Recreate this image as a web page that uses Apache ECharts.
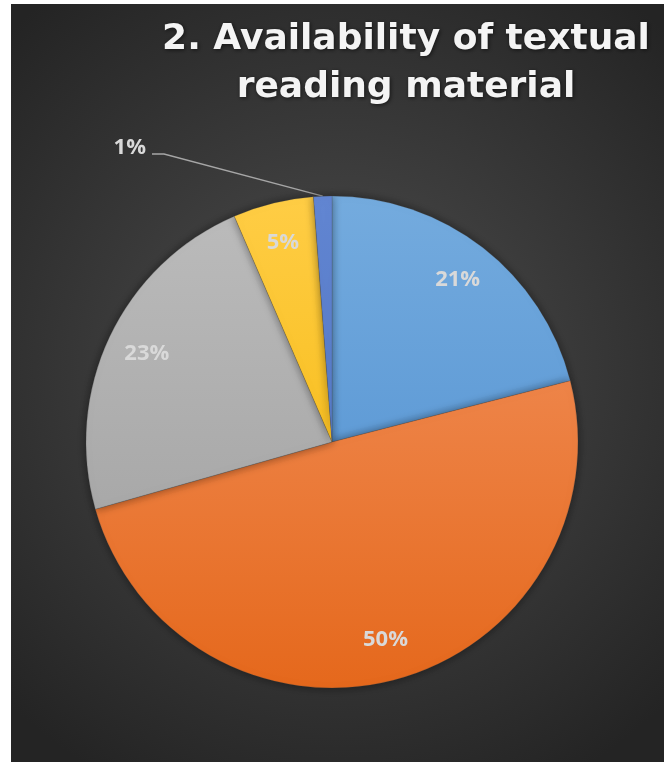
<!DOCTYPE html>
<html>
<head>
<meta charset="utf-8">
<script src="https://cdn.jsdelivr.net/npm/echarts@6/dist/echarts.min.js"></script>
<style>
html,body{margin:0;padding:0;background:#ffffff;}
#chart{width:667px;height:762px;}
</style>
</head>
<body>
<div id="chart"></div>
<script>
// ---- data ----
var categories = ['A', 'B', 'C', 'D', 'E'];
var values = [21, 49.6, 22.9, 5.3, 1.2];
var titleLines = ['2. Availability of textual', 'reading material'];

// ---- styles ----
var CX = 332, CY = 442, R = 246;
var sliceColors = [
  ['#74abde', '#4b8ccf'],
  ['#f39563', '#e5681c'],
  ['#bcbcbc', '#9d9d9d'],
  ['#ffcd45', '#f2b300'],
  ['#6286d2', '#4a70c0']
];

var total = values.reduce(function (a, b) { return a + b; }, 0);
function midAngle(i) {
  var s = 0;
  for (var k = 0; k < i; k++) s += values[k];
  return (s + values[i] / 2) / total * Math.PI * 2;
}

var chart = echarts.init(document.getElementById('chart'), null, {renderer: 'canvas'});
var data = categories.map(function (c, i) {
  var d = {
    name: c,
    value: values[i],
    itemStyle: {
      color: {
        type: 'linear', global: true, x: CX, y: CY - R, x2: CX, y2: CY + R,
        colorStops: [{offset: 0, color: sliceColors[i][0]}, {offset: 1, color: sliceColors[i][1]}]
      }
    }
  };
  if (i === 4) {
    d.label = {position: 'outside'};
    d.labelLine = {show: true};
  }
  return d;
});

chart.setOption({
  animation: false,
  graphic: [{
    type: 'rect', z: -10,
    shape: {x: 11, y: 4, width: 653, height: 758},
    style: {
      fill: {
        type: 'radial', x: 0.5, y: 0.48, r: 0.72,
        colorStops: [{offset: 0, color: '#4e4e4e'}, {offset: 1, color: '#242424'}]
      }
    }
  }],
  title: {
    text: titleLines.join('\n'),
    left: 401, top: 11, textAlign: 'center',
    textStyle: {
      color: '#f4f4f4', fontFamily: 'DejaVu Sans', fontWeight: 'bold', fontSize: 36,
      lineHeight: 48,
      textShadowColor: 'rgba(0,0,0,0.6)', textShadowBlur: 4, textShadowOffsetX: 1, textShadowOffsetY: 1
    }
  },
  series: [{
    type: 'pie',
    center: [CX, CY],
    radius: [0, R],
    startAngle: 90,
    clockwise: true,
    avoidLabelOverlap: false,
    itemStyle: {
      borderWidth: 0.6, borderColor: 'rgba(70,70,70,0.35)',
      shadowBlur: 10, shadowColor: 'rgba(0,0,0,0.45)'
    },
    label: {
      show: true, position: 'inside',
      formatter: function (p) { return Math.round(p.percent) + '%'; },
      color: '#d9d9d9', fontFamily: 'Open Sans', fontWeight: 'bold', fontSize: 22
    },
    labelLine: {show: false, lineStyle: {color: '#a6a6a6', width: 1.3}},
    labelLayout: function (p) {
      var a = midAngle(p.dataIndex);
      if (p.dataIndex === 4) {
        var ex = CX + R * Math.sin(a), ey = CY - R * Math.cos(a);
        return {
          x: 146, y: 148, align: 'right', verticalAlign: 'middle',
          labelLinePoints: [[ex, ey], [164, 154], [152, 154]]
        };
      }
      var rr = 205;
      return {
        x: CX + rr * Math.sin(a), y: CY - rr * Math.cos(a),
        align: 'center', verticalAlign: 'middle'
      };
    },
    data: data
  }]
});
</script>
</body>
</html>
